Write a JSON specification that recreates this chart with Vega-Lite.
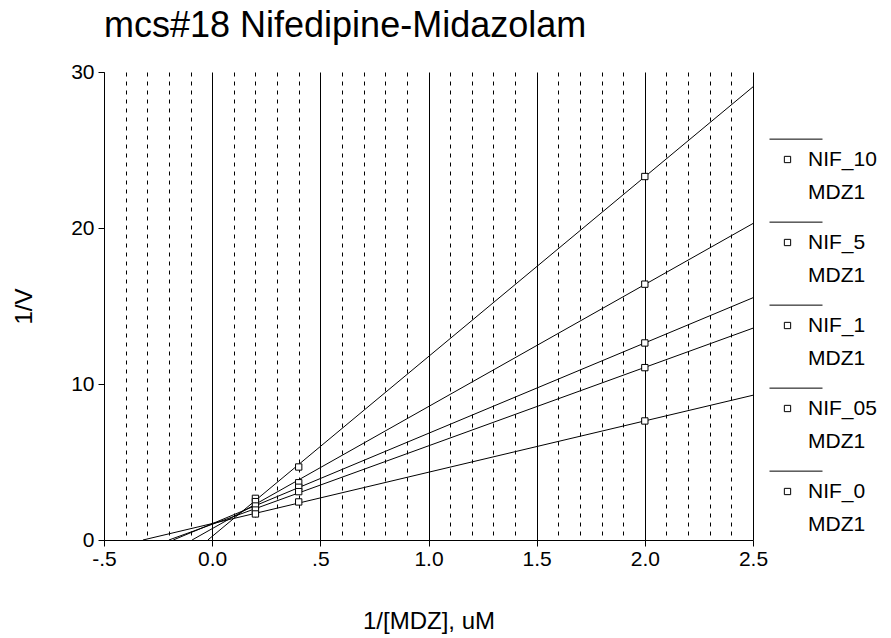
{
  "$schema": "https://vega.github.io/schema/vega-lite/v6.json",
  "width": 649,
  "height": 468,
  "autosize": {"type": "none"},
  "padding": {"left": 104, "top": 72, "right": 138, "bottom": 98},
  "background": "white",
  "title": {"text": "mcs#18 Nifedipine-Midazolam", "anchor": "start", "frame": "group", "fontSize": 36, "font": "Liberation Sans", "fontWeight": "normal", "color": "black", "offset": 16},
  "config": {"view": {"stroke": null}, "font": "Liberation Sans", "style": {"guide-label": {"lineHeight": 33}}},
  "datasets": {
    "points": [
      {"x": 0.2, "y": 2.67, "series": "NIF_10"},
      {"x": 0.4, "y": 4.68, "series": "NIF_10"},
      {"x": 2.0, "y": 23.3, "series": "NIF_10"},
      {"x": 0.2, "y": 2.46, "series": "NIF_5"},
      {"x": 0.4, "y": 3.67, "series": "NIF_5"},
      {"x": 2.0, "y": 16.4, "series": "NIF_5"},
      {"x": 0.2, "y": 2.18, "series": "NIF_1"},
      {"x": 0.4, "y": 3.38, "series": "NIF_1"},
      {"x": 2.0, "y": 12.63, "series": "NIF_1"},
      {"x": 0.2, "y": 1.92, "series": "NIF_05"},
      {"x": 0.4, "y": 3.10, "series": "NIF_05"},
      {"x": 2.0, "y": 11.05, "series": "NIF_05"},
      {"x": 0.2, "y": 1.67, "series": "NIF_0"},
      {"x": 0.4, "y": 2.44, "series": "NIF_0"},
      {"x": 2.0, "y": 7.63, "series": "NIF_0"}
    ],
    "lines": [
      {"x": -0.02, "y": 0, "series": "NIF_10"},
      {"x": 2.5, "y": 29.05, "series": "NIF_10"},
      {"x": -0.093, "y": 0, "series": "NIF_5"},
      {"x": 2.5, "y": 20.29, "series": "NIF_5"},
      {"x": -0.18, "y": 0, "series": "NIF_1"},
      {"x": 2.5, "y": 15.53, "series": "NIF_1"},
      {"x": -0.2, "y": 0, "series": "NIF_05"},
      {"x": 2.5, "y": 13.58, "series": "NIF_05"},
      {"x": -0.32, "y": 0, "series": "NIF_0"},
      {"x": 2.5, "y": 9.28, "series": "NIF_0"}
    ]
  },
  "layer": [
    {
      "data": {"name": "lines"},
      "mark": {"type": "line", "color": "black", "strokeWidth": 1},
      "encoding": {
        "x": {
          "field": "x", "type": "quantitative",
          "scale": {"domain": [-0.5, 2.5], "nice": false, "zero": false},
          "axis": {
            "title": "1/[MDZ], uM", "titleFontSize": 24, "titleFontWeight": "normal", "titleColor": "black", "titlePadding": 40,
            "values": [-0.5, -0.4, -0.3, -0.2, -0.1, 0, 0.1, 0.2, 0.3, 0.4, 0.5, 0.6, 0.7, 0.8, 0.9, 1.0, 1.1, 1.2, 1.3, 1.4, 1.5, 1.6, 1.7, 1.8, 1.9, 2.0, 2.1, 2.2, 2.3, 2.4, 2.5],
            "tickCount": 100,
            "labelExpr": "abs(datum.value*2 - round(datum.value*2)) > 0.001 ? '' : (abs(datum.value + 0.5) < 0.001 ? '-.5' : (abs(datum.value - 0.5) < 0.001 ? '.5' : format(datum.value, '.1f')))",
            "labelFontSize": 21, "labelColor": "black", "labelPadding": 2, "labelOverlap": false, "labelFlush": false, "labelBound": false,
            "tickSize": 6, "tickColor": "black",
            "tickOpacity": {"condition": {"test": "abs(datum.value*2 - round(datum.value*2)) < 0.001", "value": 1}, "value": 0},
            "grid": true, "gridColor": "black", "gridOpacity": 1, "gridWidth": 1,
            "gridDash": {"condition": {"test": "abs(datum.value*2 - round(datum.value*2)) < 0.001", "value": []}, "value": [4, 5]},
            "domainColor": "black", "domainWidth": 1
          }
        },
        "y": {
          "field": "y", "type": "quantitative",
          "scale": {"domain": [0, 30], "nice": false},
          "axis": {
            "title": "1/V", "titleFontSize": 24, "titleFontWeight": "normal", "titleColor": "black", "titlePadding": 34,
            "values": [0, 10, 20, 30], "labelFontSize": 21, "labelColor": "black", "labelPadding": 4,
            "tickSize": 6, "tickColor": "black", "grid": false, "domainColor": "black", "domainWidth": 1
          }
        },
        "detail": {"field": "series", "type": "nominal"}
      }
    },
    {
      "data": {"name": "points"},
      "mark": {"type": "point", "shape": "square", "filled": true, "fill": "white", "size": 40, "strokeWidth": 1, "opacity": 1},
      "encoding": {
        "x": {"field": "x", "type": "quantitative"},
        "y": {"field": "y", "type": "quantitative"},
        "stroke": {
          "field": "series", "type": "nominal",
          "scale": {"domain": ["NIF_10", "NIF_5", "NIF_1", "NIF_05", "NIF_0"], "range": ["black", "black", "black", "black", "black"]},
          "legend": {
            "orient": "none", "legendX": 673, "legendY": 77, "title": null, "padding": 0,
            "symbolType": "M-2.57,-2.91H5M-0.45,-0.45H0.45V0.45H-0.45Z",
            "symbolSize": 196, "symbolStrokeWidth": 1, "symbolStrokeColor": "black", "symbolFillColor": "white",
            "labelExpr": "[datum.label, 'MDZ1']",
            "labelFontSize": 21, "labelColor": "black", "labelOffset": 10, "labelBaseline": "middle",
            "rowPadding": 17
          }
        }
      }
    }
  ]
}
